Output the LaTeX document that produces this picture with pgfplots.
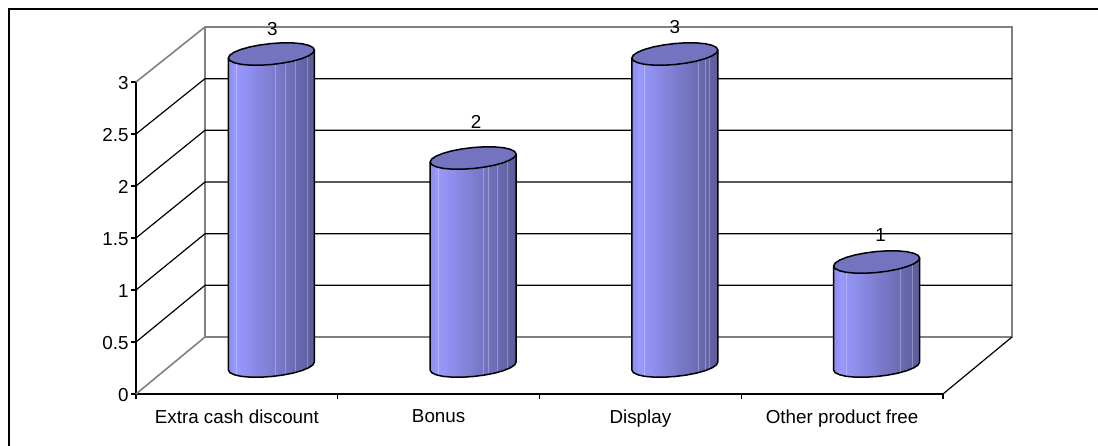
\documentclass[border=0pt]{standalone}
\usepackage{pgfplots}
\usepackage{pgfplotstable}
\usepackage{fontspec}
\setmainfont{Liberation Sans}
\pgfplotsset{compat=1.18}
\pgfdeclarehorizontalshading{cylbody}{100bp}{rgb(0bp)=(.55,.55,.92);rgb(25bp)=(.55,.55,.92);rgb(29bp)=(.6,.6,1);rgb(75bp)=(.36,.36,.60);rgb(100bp)=(.36,.36,.60)}
\newcommand{\lab}{\fontsize{18.8}{20}\selectfont}
% outline of the side of a cylinder, in pixels round its centre (top=1: moves with the value)
\pgfplotstableread{
dx dy top
-43 -4 1
-43 -4 0
-41.5 -6.6 0
-37.2 -8.7 0
-30.4 -10.3 0
-21.5 -11.1 0
-11.1 -11.2 0
0 -10.5 0
11.1 -9.1 0
21.5 -7.1 0
30.4 -4.6 0
37.2 -1.8 0
41.5 1.1 0
43 4 0
43 4 1
}\cylside
% outline of the top of a cylinder
\pgfplotstableread{
dx dy
43 4
41.5 6.6
37.2 8.7
30.4 10.3
21.5 11.1
11.1 11.2
0 10.5
-11.1 9.1
-21.5 7.1
-30.4 4.6
-37.2 1.8
-41.5 -1.1
-43 -4
-41.5 -6.6
-37.2 -8.7
-30.4 -10.3
-21.5 -11.1
-11.1 -11.2
0 -10.5
11.1 -9.1
21.5 -7.1
30.4 -4.6
37.2 -1.8
41.5 1.1
}\cyltop
% light bands on the cylinder sides
\pgfplotstableread{
dx dy top
-34.6 -9 0
-34.6 -9 1
0 nan 0
4 -10 0
4 -10 1
0 nan 0
14 -8.5 0
14 -8.5 1
0 nan 0
24 -6.5 0
24 -6.5 1
0 nan 0
36 -2 0
36 -2 1
}\bandsA
\pgfplotstableread{
dx dy top
-35 -9 0
-35 -9 1
0 nan 0
10 -9.2 0
10 -9.2 1
0 nan 0
15 -8.3 0
15 -8.3 1
0 nan 0
24 -6.5 0
24 -6.5 1
0 nan 0
34 -2.6 0
34 -2.6 1
}\bandsB
\pgfplotstableread{
dx dy top
-30 -10 0
-30 -10 1
0 nan 0
24 -6.5 0
24 -6.5 1
0 nan 0
31 -4 0
31 -4 1
0 nan 0
35 -2.5 0
35 -2.5 1
}\bandsC
\pgfplotstableread{
dx dy top
-30 -10 0
-30 -10 1
0 nan 0
24 -6.5 0
24 -6.5 1
0 nan 0
36 -2 0
36 -2 1
}\bandsD
% #1 x of the centre, #2 value, #3 band table
\newcommand{\cyl}[3]{%
  \addplot[shade, shading=cylbody, draw=none] table[x expr=\thisrow{dx}/201.75+#1, y expr=\thisrow{dy}/104+\thisrow{top}*#2+0.269] {\cylside} -- cycle;
  \addplot[white, opacity=.28, line width=.9pt, unbounded coords=jump] table[x expr=\thisrow{dx}/201.75+#1, y expr=\thisrow{dy}/104+\thisrow{top}*#2+0.269] {#3};
  \addplot[black, line width=1.5pt, line join=round] table[x expr=\thisrow{dx}/201.75+#1, y expr=\thisrow{dy}/104+\thisrow{top}*#2+0.269] {\cylside};
  \addplot[fill={rgb,1:red,.45;green,.45;blue,.75}, draw=black, line width=1.5pt, line join=round] table[x expr=\thisrow{dx}/201.75+#1, y expr=\thisrow{dy}/104+#2+0.269] {\cyltop} -- cycle;
}
% #1 x, #2 value, #3 xshift, #4 yshift
\newcommand{\vlabel}[4]{%
  \addplot[draw=none, nodes near coords={\pgfmathprintnumber{\pgfplotspointmeta}},
    nodes near coords style={anchor=center, font=\lab, black, xshift=#3pt, yshift=#4pt}] coordinates {(#1,#2)};
}
\begin{document}
\begin{tikzpicture}[x=1pt,y=1pt]
\useasboundingbox (0,0) rectangle (1098,446);
\draw[black, line width=2pt] (8.5,0) -- (8.5,436.5) -- (1098,436.5);
\begin{axis}[
  at={(136pt,52pt)}, anchor=south west,
  scale only axis, width=807pt, height=312pt,
  xmin=0, xmax=4, ymin=0, ymax=3,
  clip=false,
  axis lines=left,
  axis line style={-, black, line width=1.5pt},
  /pgf/number format/assume math mode=true,
  tick align=outside,
  xtick={0.5,1.5,2.5,3.5},
  xticklabels={Extra cash discount,Bonus,Display,Other product free},
  minor xtick={0,1,2,3,4},
  major x tick style={draw=none},
  minor x tick style={black, line width=1.2pt},
  minor tick length=5pt,
  ytick={0,0.5,1,1.5,2,2.5,3},
  yticklabels={0,0.5,1,1.5,2,2.5,3},
  y tick style={black, line width=1.2pt},
  major tick length=5pt,
  tick label style={font=\lab},
  x tick label style={yshift=-7pt},
  y tick label style={xshift=1pt, yshift=-1pt},
  every axis plot/.append style={mark=none},
]
% walls and floor
\addplot[black!50, line width=1.6pt] coordinates {(0,0) (0.342,0.548) (4.342,0.548) (4.342,3.529) (0.342,3.529) (0,3)};
\addplot[black!50, line width=1.6pt] coordinates {(0.342,0.548) (0.342,3.529)};
\addplot[black, line width=1.2pt] coordinates {(4,0) (4.342,0.548)};
\addplot[black, line width=1.2pt] coordinates {(0,0.5) (0.342,1.045) (4.342,1.045)};
\addplot[black, line width=1.2pt] coordinates {(0,1) (0.342,1.541) (4.342,1.541)};
\addplot[black, line width=1.2pt] coordinates {(0,1.5) (0.342,2.038) (4.342,2.038)};
\addplot[black, line width=1.2pt] coordinates {(0,2) (0.342,2.536) (4.342,2.536)};
\addplot[black, line width=1.2pt] coordinates {(0,2.5) (0.342,3.032) (4.342,3.032)};
% cylinders
\cyl{0.671}{3}{\bandsA}
\cyl{1.671}{2}{\bandsB}
\cyl{2.671}{3}{\bandsC}
\cyl{3.671}{1}{\bandsD}
% value labels
\vlabel{0.671}{3}{1}{53}
\vlabel{1.671}{2}{3}{64}
\vlabel{2.671}{3}{0}{55}
\vlabel{3.671}{1}{4}{55}
\end{axis}
\end{tikzpicture}
\end{document}
